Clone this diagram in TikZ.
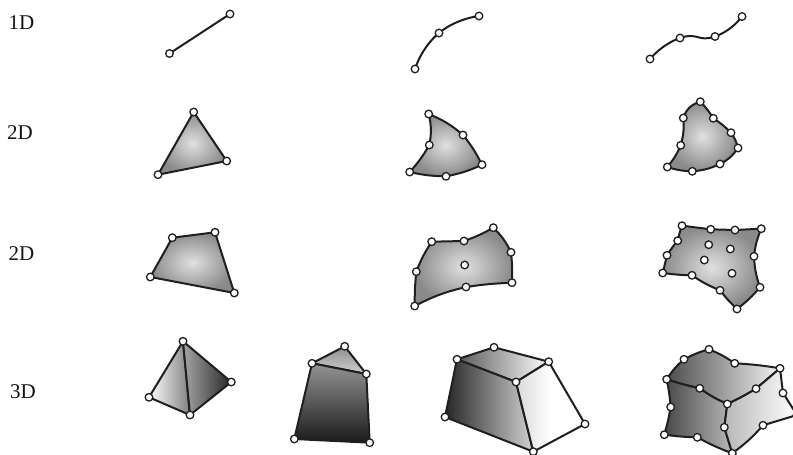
\documentclass[tikz,border=0pt]{standalone}
\usepackage{fontspec}
\setmainfont{Liberation Serif}
\pgfdeclarelayer{bg}
\pgfsetlayers{bg,main}
\tikzset{
  pt/.style={circle,draw=black!88,fill=white,line width=1.3pt,inner sep=0pt,minimum size=7.6pt},
  edge/.style={draw=black!88,line width=2pt,line join=round,line cap=round},
  soft/.style={edge,inner color=black!12,outer color=black!46},
  lab/.style={font=\fontsize{21}{21}\selectfont,text=black!92,inner sep=0pt},
  sm/.style={smooth,tension=1}
}
\begin{document}
\begin{tikzpicture}[x=1pt,y=-1pt]
\useasboundingbox (0,0) rectangle (793,455);
\node[lab] (l1) at (21.5,23) {1D};
\node[lab] (l2) at (20,133) {2D};
\node[lab] (l3) at (21.5,254) {2D};
\node[lab] (l4) at (23,392) {3D};
\foreach \n/\x/\y in {
 a1/169.5/53.5,a2/230/14,
 b1/415/69,b2/439/33,b3/479/16,
 c1/650/59,c2/680/38,c3/715/36.5,c4/742/16.5,
 d1/193.7/112,d2/226.7/161,d3/158/174.7,
 e1/428.7/114,e2/463/135,e3/482/164.7,e4/446/176.3,e5/409.7/172,e6/429.3/145,
 f1/700.3/101.7,f2/713.3/118.3,f3/731/132.7,f4/738/148,f5/720/164,f6/692.3/171.3,f7/667.3/167,f8/680.7/145.3,f9/683.3/118,
 g1/172.3/237.7,g2/215/232.3,g3/234.3/293,g4/150.3/277,
 h1/431.7/241.7,h2/464/241,h3/493.3/227.7,h4/511/252.3,h5/512/282.7,h6/466/287,h7/414.7/306,h8/416.3/271.7,h9/464.7/265,
 i1/682/225.7,i2/710.7/229.3,i3/735/230,i4/761.3/228.7,i5/754/256.3,i6/760/287.3,i7/737/309,i8/720/290.3,i9/692/275.3,i10/662.7/273,i11/667/255.3,i12/677.7/240.7,
 i13/708.7/244.7,i14/730.3/249,i15/704.3/260,i16/732/273.3,
 j1/183/341.3,j2/231.3/382,j3/190/415,j4/149/397.3,
 k1/344.7/346.3,k2/366.3/374,k3/312/363.3,k4/294.3/439,k5/369.7/442.7,
 m1/494/347.3,m2/548.7/361.7,m3/457/359.3,m4/516/382,m5/445/417,m6/533.3/451.7,m7/585/424,
 n1/709/349.3,n2/684/359.3,n3/666.7/379.3,n4/734.7/363.3,n5/780/368.3,n6/699.7/388.3,n7/756/388.7,n8/727.3/404,n9/783/393,n10/797/415,n11/763/425.3,n12/724.3/427.3,n13/732.3/453.3,n14/697.3/437.3,n15/664.3/434.7,n16/670.7/407}
  \node[pt] (\n) at (\x,\y) {};
\begin{pgfonlayer}{bg}
% 1D
\draw[edge] (a1.center) -- (a2.center);
\draw[edge] plot[sm] coordinates {(b1.center) (b2.center) (b3.center)};
\draw[edge] plot[sm] coordinates {(c1.center) (c2.center) (c3.center) (c4.center)};
% 2D triangles
\shadedraw[soft] (d1.center) -- (d2.center) -- (d3.center) -- cycle;
\shadedraw[soft] (e1.center) to[bend left=9] (e2.center) to[bend left=6] (e3.center) to[bend left=7] (e4.center) to[bend left=6] (e5.center) to[bend right=6] (e6.center) to[bend right=12] (e1.center) -- cycle;
\shadedraw[soft] (f1.center) to[bend left=6] (f2.center) to[bend left=6] (f3.center) to[bend left=10] (f4.center) to[bend left=14] (f5.center) to[bend left=10] (f6.center) to[bend left=8] (f7.center) to[bend right=8] (f8.center) to[bend right=10] (f9.center) to[bend left=28] (f1.center) -- cycle;
% 2D quadrilaterals
\shadedraw[soft] (g1.center) -- (g2.center) -- (g3.center) -- (g4.center) -- cycle;
\shadedraw[soft] (h1.center) -- (h2.center) to[bend right=5] (h3.center) to[bend left=10] (h4.center) to[bend left=4] (h5.center) to[bend right=3] (h6.center) to[bend right=7] (h7.center) to[bend left=3] (h8.center) to[bend left=6] (h1.center) -- cycle;
\shadedraw[soft] (i1.center) -- (i2.center) -- (i3.center) -- (i4.center) to[bend right=8] (i5.center) to[bend right=8] (i6.center) to[bend left=6] (i7.center) to[bend left=4] (i8.center) to[bend left=6] (i9.center) to[bend left=3] (i10.center) -- (i11.center) to[bend left=4] (i12.center) to[bend left=4] (i1.center) -- cycle;
% 3D tetrahedron
\shadedraw[edge,left color=white,right color=black!50] (j1.center) -- (j3.center) -- (j4.center) -- cycle;
\shadedraw[edge,left color=black!35,right color=black!85] (j1.center) -- (j2.center) -- (j3.center) -- cycle;
% 3D pyramid
\shadedraw[edge,top color=black!45,bottom color=black!18] (k1.center) -- (k2.center) -- (k3.center) -- cycle;
\shadedraw[edge,top color=black!42,bottom color=black!90] (k3.center) -- (k2.center) -- (k5.center) -- (k4.center) -- cycle;
% 3D wedge
\shadedraw[edge,left color=black!65,right color=white] (m3.center) -- (m1.center) -- (m2.center) -- (m4.center) -- cycle;
\shadedraw[edge,left color=black!85,right color=black!18] (m3.center) -- (m4.center) -- (m6.center) -- (m5.center) -- cycle;
\shadedraw[edge,left color=black!15,right color=white,middle color=white] (m2.center) -- (m7.center) -- (m6.center) -- (m4.center) -- cycle;
% 3D complex
\shadedraw[edge,left color=black!70,right color=black!5] (n3.center) to[bend left=8] (n2.center) to[bend left=6] (n1.center) to[bend left=6] (n4.center) to[bend left=3] (n5.center) -- (n7.center) to[bend left=3] (n8.center) to[bend left=6] (n6.center) to[bend left=3] (n3.center) -- cycle;
\shadedraw[edge,left color=black!72,right color=black!28] (n3.center) to[bend right=3] (n6.center) to[bend right=6] (n8.center) -- (n12.center) -- (n13.center) to[bend left=4] (n14.center) to[bend left=3] (n15.center) to[bend right=3] (n16.center) to[bend right=3] (n3.center) -- cycle;
\shadedraw[edge,left color=black!28,right color=white] (n5.center) -- (n9.center) -- (n10.center) -- (n11.center) to[bend left=6] (n13.center) -- (n12.center) -- (n8.center) to[bend right=3] (n7.center) -- (n5.center) -- cycle;
\end{pgfonlayer}
\end{tikzpicture}
\end{document}
